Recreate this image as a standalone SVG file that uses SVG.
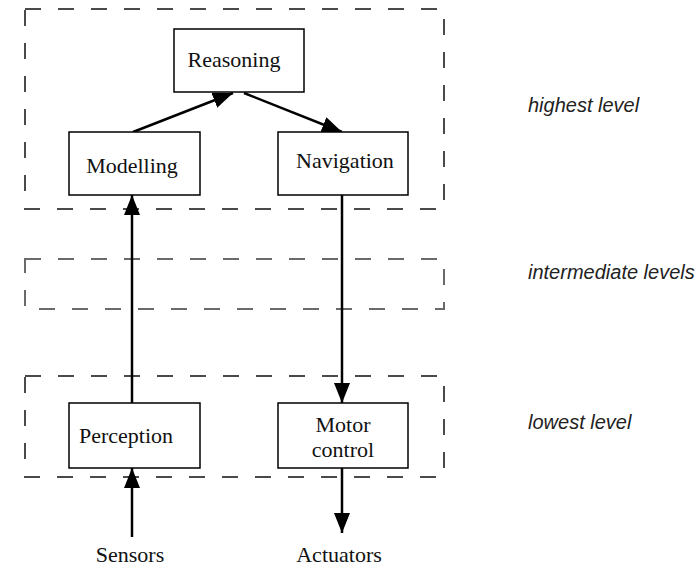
<svg xmlns="http://www.w3.org/2000/svg" width="698" height="568" viewBox="0 0 698 568">
<style>
.level{fill:none;stroke:#4a4a4a;stroke-width:2;stroke-dasharray:16 17}
.level.mid{stroke:#6a6a6a}
.node rect{fill:#fff;stroke:#000;stroke-width:1.5}
.lbl{font-family:"Liberation Serif","Times New Roman",serif;font-size:22px;fill:#111;text-anchor:middle}
.side{font-family:"Liberation Sans",Arial,sans-serif;font-style:italic;font-size:20px;fill:#222}
.edge{stroke:#000;stroke-width:2.5;fill:none;marker-end:url(#ah)}
</style>
<defs>
<marker id="ah" markerUnits="userSpaceOnUse" markerWidth="22" markerHeight="18" refX="20" refY="8" orient="auto" viewBox="0 0 22 18">
<path d="M0,0 L20,8 L0,16 z" fill="#000"/>
</marker>
</defs>
<rect width="698" height="568" fill="#fff"/>
<g id="levels">
<rect class="level" x="25" y="9" width="419" height="200"/>
<rect class="level mid" x="25" y="259" width="419" height="50"/>
<rect class="level" x="25" y="376" width="419" height="101"/>
<text class="side" x="528" y="112">highest level</text>
<text class="side" x="528" y="279">intermediate levels</text>
<text class="side" x="528" y="429">lowest level</text>
</g>
<g id="connectors">
<line class="edge" x1="133" y1="132" x2="233" y2="93"/>
<line class="edge" x1="244" y1="93" x2="342" y2="132"/>
<line class="edge" x1="132" y1="403" x2="132" y2="195"/>
<line class="edge" x1="342" y1="195" x2="342" y2="403"/>
<line class="edge" x1="132" y1="537" x2="132" y2="468"/>
<line class="edge" x1="342" y1="468" x2="342" y2="533"/>
</g>
<g id="reasoning" class="node"><rect x="174" y="29" width="130" height="63"/><text class="lbl" x="234" y="67">Reasoning</text></g>
<g id="modelling" class="node"><rect x="69" y="132" width="131" height="63"/><text class="lbl" x="132" y="173">Modelling</text></g>
<g id="navigation" class="node"><rect x="278" y="132" width="130" height="63"/><text class="lbl" x="345" y="168">Navigation</text></g>
<g id="perception" class="node"><rect x="69" y="403" width="131" height="65"/><text class="lbl" x="126" y="443">Perception</text></g>
<g id="motor" class="node"><rect x="278" y="403" width="130" height="65"/><text class="lbl" x="343" y="432">Motor</text><text class="lbl" x="343" y="457">control</text></g>
<g id="sensors"><text class="lbl" x="130" y="562">Sensors</text></g>
<g id="actuators"><text class="lbl" x="339" y="562">Actuators</text></g>
</svg>
